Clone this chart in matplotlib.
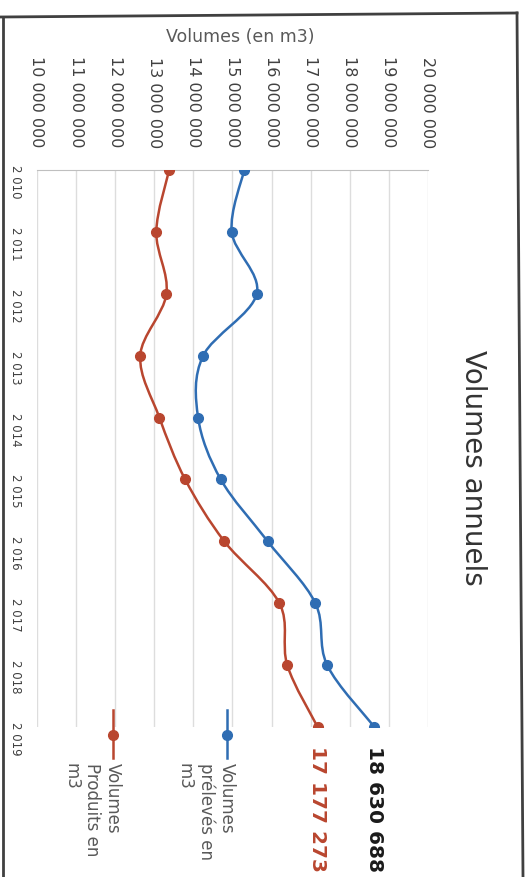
"""Annual water volumes chart, drawn rotated a quarter turn like the scanned page."""

import matplotlib

matplotlib.use("Agg")
import matplotlib.pyplot as plt
from matplotlib.lines import Line2D
from matplotlib.patches import PathPatch
from matplotlib.path import Path

W_PX, H_PX = 531, 877

YEARS = [2010, 2011, 2012, 2013, 2014, 2015, 2016, 2017, 2018, 2019]
YEAR_LABELS = ["2 010", "2 011", "2 012", "2 013", "2 014",
               "2 015", "2 016", "2 017", "2 018", "2 019"]
PRELEVES = [15.30e6, 14.98e6, 15.62e6, 14.25e6, 14.12e6,
            14.70e6, 15.90e6, 17.12e6, 17.42e6, 18630688]
PRODUITS = [13.38e6, 13.05e6, 13.31e6, 12.64e6, 13.13e6,
            13.79e6, 14.79e6, 16.20e6, 16.40e6, 17177273]
VALUE_TICKS = [10e6 + i * 1e6 for i in range(11)]
VALUE_LABELS = [f"{int(v):,}".replace(",", " ") for v in VALUE_TICKS]
LAST_LABELS = ["18 630 688", "17 177 273"]
LEGEND_LABELS = ["Volumes\nprélevés en\nm3", "Volumes\nProduits en\nm3"]

BLUE = "#2F6DB3"
RED = "#B9462F"
GREY_TEXT = "#595959"


def fx(px):
    return px / W_PX


def fy(py):
    return 1 - py / H_PX


def smooth_path(xs, ys):
    """Bezier path through the points, the way a spreadsheet smooths a line."""
    pts = list(zip(xs, ys))
    n = len(pts)
    verts = [pts[0]]
    codes = [Path.MOVETO]
    for i in range(n - 1):
        p0 = pts[max(i - 1, 0)]
        p1 = pts[i]
        p2 = pts[i + 1]
        p3 = pts[min(i + 2, n - 1)]
        c1 = (p1[0] + (p2[0] - p0[0]) / 6, p1[1] + (p2[1] - p0[1]) / 6)
        c2 = (p2[0] - (p3[0] - p1[0]) / 6, p2[1] - (p3[1] - p1[1]) / 6)
        verts += [c1, c2, p2]
        codes += [Path.CURVE4] * 3
    return Path(verts, codes)


fig = plt.figure(figsize=(W_PX / 100, H_PX / 100), dpi=100)
fig.patch.set_facecolor("white")

ax = fig.add_axes([fx(37), fy(727), fx(428) - fx(37), fy(170) - fy(727)])
ax.set_xlim(VALUE_TICKS[0], VALUE_TICKS[-1])
ax.set_ylim(YEARS[-1], YEARS[0])

for values, color in [(PRELEVES, BLUE), (PRODUITS, RED)]:
    ax.add_patch(PathPatch(smooth_path(values, YEARS), fill=False,
                           edgecolor=color, lw=1.8, zorder=3))
    ax.plot(values, YEARS, linestyle="none", marker="o", markersize=7,
            color=color, zorder=4)

for value, text, color in [(PRELEVES[-1], LAST_LABELS[0], "#1a1a1a"),
                           (PRODUITS[-1], LAST_LABELS[1], RED)]:
    ax.annotate(text, xy=(value, YEARS[-1]), xytext=(0, -14),
                textcoords="offset points", rotation=270, ha="center",
                va="top", fontsize=14.5, fontweight="bold", color=color,
                annotation_clip=False)

ax.xaxis.tick_top()
ax.set_xticks(VALUE_TICKS)
ax.set_xticklabels(VALUE_LABELS, rotation=270, fontsize=11.5, color="#404040")
ax.set_yticks(YEARS)
ax.set_yticklabels(YEAR_LABELS, rotation=270, fontsize=8.5, color="#404040")
ax.tick_params(axis="x", length=0, pad=16)
ax.tick_params(axis="y", length=0, pad=11)
ax.grid(axis="x", color="#DDDDDD", lw=1)
ax.set_axisbelow(True)
for side in ["left", "right", "bottom"]:
    ax.spines[side].set_visible(False)
ax.spines["top"].set_color("#BFBFBF")

fig.text(fx(240), fy(37), "Volumes (en m3)", ha="center", va="center",
         fontsize=12.5, color=GREY_TEXT)
fig.text(fx(473), fy(468), "Volumes annuels", rotation=270, ha="center",
         va="center", fontsize=20, color="#333333")

# legend drawn by hand so it can be turned with the rest of the page
for x_line, label, color in [(227, LEGEND_LABELS[0], BLUE),
                             (113, LEGEND_LABELS[1], RED)]:
    fig.add_artist(Line2D([fx(x_line), fx(x_line)], [fy(710), fy(758)],
                          color=color, lw=1.8))
    fig.add_artist(Line2D([fx(x_line)], [fy(735)], marker="o", markersize=7,
                          color=color))
    fig.text(fx(x_line + 9), fy(763), label, rotation=270, ha="right",
             va="top", fontsize=12, color=GREY_TEXT, multialignment="left")

# page frame from the scan
fig.add_artist(Line2D([fx(0), fx(517)], [fy(17), fy(13)], color="#404040", lw=2))
fig.add_artist(Line2D([fx(517), fx(523)], [fy(13), fy(877)], color="#404040", lw=2))
fig.add_artist(Line2D([fx(3), fx(3)], [fy(17), fy(877)], color="#404040", lw=2))

fig.savefig("out.png", dpi=100)
